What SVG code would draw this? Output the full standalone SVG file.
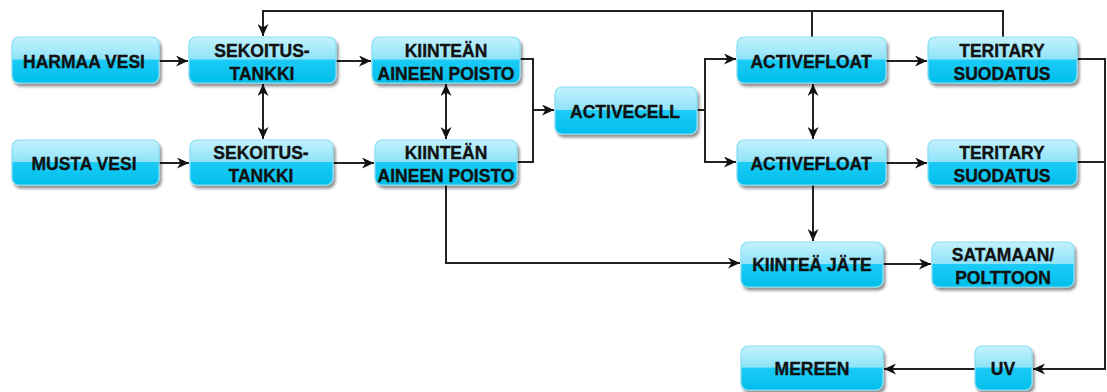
<svg xmlns="http://www.w3.org/2000/svg" width="1107" height="392" viewBox="0 0 1107 392">
<defs>
<linearGradient id="g" x1="0" y1="0" x2="0" y2="1">
<stop offset="0" stop-color="#c4f2fd"/>
<stop offset="0.48" stop-color="#8fe3f9"/>
<stop offset="0.5" stop-color="#1ccbf6"/>
<stop offset="1" stop-color="#00bfeb"/>
</linearGradient>
<filter id="sh" x="-10%" y="-20%" width="125%" height="150%">
<feGaussianBlur in="SourceAlpha" stdDeviation="1.6"/>
<feOffset dx="2" dy="3" result="b"/>
<feComponentTransfer><feFuncA type="linear" slope="0.45"/></feComponentTransfer>
<feMerge><feMergeNode/><feMergeNode in="SourceGraphic"/></feMerge>
</filter>
<marker id="ah" markerWidth="13" markerHeight="11" refX="12" refY="5.5" orient="auto" markerUnits="userSpaceOnUse">
<path d="M0,0 L12,5.5 L0,11 L3.5,5.5 Z" fill="#111"/>
</marker>
<marker id="as" markerWidth="13" markerHeight="11" refX="1" refY="5.5" orient="auto" markerUnits="userSpaceOnUse">
<path d="M13,0 L1,5.5 L13,11 L9.5,5.5 Z" fill="#111"/>
</marker>
</defs>
<style>
.box{fill:url(#g);stroke:#86def5;stroke-width:1.2;filter:url(#sh)}
.t{font-family:"Liberation Sans",Arial,sans-serif;font-weight:bold;font-size:17.5px;fill:#111;stroke:#111;stroke-width:0.35;text-anchor:middle}
.c{fill:none;stroke:#222;stroke-width:2}
.a{marker-end:url(#ah)}
.d{marker-start:url(#as);marker-end:url(#ah)}
</style>
<g id="connectors">
<path class="c a" d="M159,61 H188"/>
<path class="c a" d="M159,163 H189"/>
<path class="c a" d="M336,61 H371"/>
<path class="c a" d="M333,163 H374"/>
<path class="c d" d="M263,84 V139"/>
<path class="c d" d="M446,84 V139"/>
<path class="c" d="M520,59 H533 V162 H517"/>
<path class="c a" d="M533,110 H554"/>
<path class="c" d="M697,110 H705"/>
<path class="c a" d="M705,110 V59 H736"/>
<path class="c a" d="M705,110 V162 H736"/>
<path class="c a" d="M886,61 H927"/>
<path class="c a" d="M886,163 H927"/>
<path class="c d" d="M813,84 V139"/>
<path class="c a" d="M813,185 V241"/>
<path class="c a" d="M446,185 V263 H740"/>
<path class="c a" d="M883,264 H931"/>
<path class="c a" d="M1003,37 V11 H263 V36"/>
<path class="c" d="M812,37 V11"/>
<path class="c a" d="M1077,59 H1105 V369 H1033"/>
<path class="c" d="M1077,162 H1105"/>
<path class="c a" d="M975,369 H884"/>
</g>
<g id="harmaa"><rect class="box" x="12" y="37" width="147" height="46" rx="7"/><text class="t" x="84" y="68">HARMAA VESI</text></g>
<g id="sekoitus1"><rect class="box" x="189" y="37" width="147" height="46" rx="7"/><text class="t" x="262" y="57">SEKOITUS-</text><text class="t" x="262" y="80">TANKKI</text></g>
<g id="kiinteän1"><rect class="box" x="372" y="37" width="148" height="46" rx="7"/><text class="t" x="446" y="57">KIINTEÄN</text><text class="t" x="446" y="80">AINEEN POISTO</text></g>
<g id="musta"><rect class="box" x="12" y="140" width="147" height="45" rx="7"/><text class="t" x="84" y="170">MUSTA VESI</text></g>
<g id="sekoitus2"><rect class="box" x="190" y="140" width="143" height="45" rx="7"/><text class="t" x="261" y="159">SEKOITUS-</text><text class="t" x="261" y="182">TANKKI</text></g>
<g id="kiinteän2"><rect class="box" x="375" y="140" width="142" height="45" rx="7"/><text class="t" x="446" y="159">KIINTEÄN</text><text class="t" x="446" y="182">AINEEN POISTO</text></g>
<g id="activecell"><rect class="box" x="555" y="87" width="142" height="47" rx="7"/><text class="t" x="625" y="118">ACTIVECELL</text></g>
<g id="activefloat1"><rect class="box" x="737" y="37" width="149" height="46" rx="7"/><text class="t" x="811" y="68">ACTIVEFLOAT</text></g>
<g id="activefloat2"><rect class="box" x="737" y="140" width="149" height="45" rx="7"/><text class="t" x="811" y="170">ACTIVEFLOAT</text></g>
<g id="teritary1"><rect class="box" x="928" y="37" width="149" height="46" rx="7"/><text class="t" x="1002" y="57">TERITARY</text><text class="t" x="1002" y="80">SUODATUS</text></g>
<g id="teritary2"><rect class="box" x="928" y="140" width="149" height="45" rx="7"/><text class="t" x="1002" y="159">TERITARY</text><text class="t" x="1002" y="182">SUODATUS</text></g>
<g id="jate"><rect class="box" x="741" y="242" width="142" height="45" rx="7"/><text class="t" x="812" y="271">KIINTEÄ JÄTE</text></g>
<g id="satamaan"><rect class="box" x="932" y="242" width="142" height="45" rx="7"/><text class="t" x="1003" y="261">SATAMAAN/</text><text class="t" x="1003" y="284">POLTTOON</text></g>
<g id="mereen"><rect class="box" x="741" y="346" width="142" height="44" rx="7"/><text class="t" x="812" y="375">MEREEN</text></g>
<g id="uv"><rect class="box" x="975" y="346" width="57" height="44" rx="7"/><text class="t" x="1003" y="375">UV</text></g>
</svg>
